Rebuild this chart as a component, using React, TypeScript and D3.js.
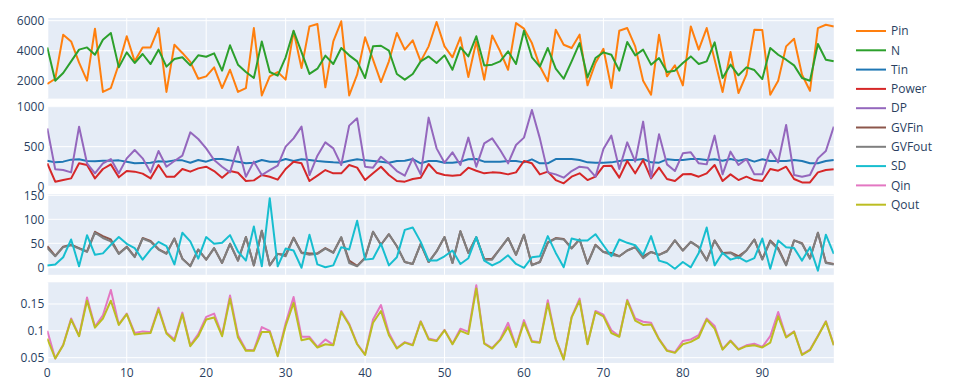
import * as d3 from "d3";

// x is just the sample index 0..99
const pin = [
  1780, 2130, 5070, 4620, 3200, 2000, 5470, 1250, 1510, 3100,
  4960, 3290, 4220, 4220, 5510, 1250, 4400, 3850, 3250, 2130,
  2290, 2890, 1510, 2730, 1250, 1510, 5510, 1020, 2290, 2580,
  2070, 5290, 2850, 5620, 5780, 1560, 4620, 5960, 1020, 2400,
  4890, 3400, 1910, 3290, 5180, 4070, 4690, 3290, 4290, 5910,
  4290, 3560, 4890, 2250, 4620, 2070, 5020, 3960, 2730, 5840,
  5470, 4510, 2960, 1960, 5400, 4400, 4180, 5070, 1690, 3180,
  4130, 1510, 5330, 5510, 4290, 2000, 1070, 5070, 2290, 3020,
  1690, 5620, 4070, 5510, 3400, 1250, 3910, 1180, 2400, 5400,
  5380, 1070, 2000, 4290, 4800, 2400, 1330, 5510, 5730, 5620,
];
const nSpeed = [
  4220, 2000, 2510, 3290, 4070, 4220, 3730, 4730, 5180, 2890,
  3890, 3180, 3780, 3110, 4070, 2940, 3450, 3560, 3020, 3690,
  3600, 3820, 2670, 4360, 3070, 2580, 2180, 4620, 2580, 2340,
  3560, 5330, 3910, 2450, 2800, 3670, 3110, 4180, 3690, 3290,
  2180, 4290, 4330, 4000, 2450, 2070, 2450, 3290, 3620, 3180,
  3690, 2730, 4220, 3620, 4960, 3020, 3070, 3290, 3960, 3110,
  5330, 3560, 2940, 4180, 2800, 2130, 3290, 4510, 2220, 3510,
  3890, 3730, 2670, 4580, 3690, 4070, 3070, 3510, 2580, 2670,
  3180, 3620, 3110, 3290, 4560, 2180, 3070, 2360, 2890, 2710,
  2110, 4180, 3730, 3400, 3020, 2180, 2000, 4450, 3400, 3290,
];
const tin = [
  325, 304, 313, 338, 342, 321, 317, 325, 325, 329,
  313, 292, 296, 300, 317, 313, 329, 329, 300, 333,
  313, 346, 346, 329, 313, 292, 300, 333, 313, 313,
  346, 321, 342, 333, 321, 313, 304, 300, 325, 342,
  329, 321, 313, 300, 321, 325, 346, 292, 321, 321,
  300, 300, 313, 342, 346, 313, 313, 313, 321, 321,
  304, 342, 292, 292, 346, 346, 346, 333, 304, 300,
  300, 304, 321, 333, 333, 346, 304, 300, 342, 333,
  333, 346, 346, 333, 342, 325, 346, 325, 346, 313,
  342, 321, 321, 321, 333, 321, 292, 292, 321, 333,
];
const power = [
  292, 63, 83, 104, 292, 271, 104, 221, 279, 117,
  196, 188, 163, 104, 271, 125, 125, 221, 188, 229,
  250, 196, 113, 196, 175, 71, 79, 146, 125, 88,
  221, 313, 292, 71, 138, 208, 167, 167, 271, 238,
  83, 167, 250, 146, 71, 63, 96, 113, 283, 175,
  146, 138, 146, 238, 200, 167, 179, 175, 154, 179,
  321, 292, 154, 188, 83, 42, 125, 167, 83, 125,
  258, 263, 113, 321, 167, 333, 104, 238, 96, 71,
  154, 158, 125, 167, 271, 71, 154, 83, 125, 83,
  71, 221, 200, 250, 96, 54, 54, 179, 208, 217,
];
const dp = [
  729, 217, 208, 179, 750, 292, 167, 292, 346, 167,
  354, 458, 354, 179, 446, 250, 321, 388, 679, 596,
  479, 333, 250, 179, 500, 125, 313, 146, 208, 263,
  500, 604, 750, 146, 388, 554, 479, 271, 763, 854,
  250, 238, 375, 292, 196, 138, 354, 154, 863, 479,
  300, 429, 271, 613, 250, 542, 604, 458, 292, 521,
  613, 958, 604, 179, 154, 113, 196, 250, 238, 125,
  471, 638, 221, 554, 313, 813, 113, 654, 279, 196,
  417, 429, 292, 279, 638, 154, 438, 271, 346, 154,
  154, 458, 304, 771, 146, 125, 146, 354, 446, 750,
];
const gvfIn = [
  44, 24, 43, 47, 40, 33, 74, 65, 58, 29,
  43, 22, 61, 55, 38, 29, 60, 18, 3, 37,
  16, 40, 9, 49, 14, 63, 4, 76, 4, 28,
  26, 62, 31, 29, 29, 40, 31, 62, 14, 3,
  20, 74, 47, 69, 44, 11, 7, 49, 11, 33,
  63, 9, 75, 30, 62, 17, 18, 39, 61, 26,
  68, 5, 11, 52, 61, 59, 40, 58, 8, 47,
  32, 30, 23, 35, 42, 23, 32, 26, 34, 56,
  35, 53, 42, 15, 56, 30, 31, 23, 35, 58,
  17, 56, 40, 5, 56, 50, 19, 72, 10, 7,
];
const gvfOut = [
  40, 23, 42, 46, 39, 32, 72, 61, 54, 28,
  42, 21, 60, 53, 37, 28, 60, 18, 2, 37,
  16, 40, 9, 49, 14, 63, 4, 76, 4, 28,
  23, 61, 30, 26, 28, 39, 30, 63, 9, 2,
  19, 74, 47, 69, 44, 11, 7, 49, 11, 33,
  63, 9, 75, 30, 63, 16, 16, 39, 61, 26,
  68, 4, 11, 51, 60, 58, 39, 58, 7, 46,
  32, 26, 23, 35, 42, 19, 32, 26, 33, 56,
  35, 53, 42, 14, 56, 28, 30, 19, 35, 58,
  16, 54, 37, 4, 56, 49, 18, 72, 9, 6,
];
const sd = [
  4, 6, 21, 58, 2, 67, 26, 29, 47, 63,
  49, 40, 16, 37, 53, 44, 6, 72, 54, 18,
  63, 49, 51, 67, 33, 14, 85, 2, 144, 2,
  39, 35, -1, 68, 6, 0, 4, 42, 37, 97,
  16, 18, 49, 4, 21, 78, 83, 53, 14, 14,
  23, 35, 7, 19, 63, 14, 4, 12, 25, 7,
  -1, 21, 23, 65, 30, 0, 60, 56, 56, 69,
  46, 23, 58, 51, 46, 26, 65, 14, 9, -3,
  11, 0, 30, 83, 4, 30, 16, 21, 12, 19,
  60, -3, 56, 42, 40, 14, 42, -7, 68, 28,
];
const qin = [
  0.100, 0.0485, 0.074, 0.123, 0.091, 0.162, 0.108, 0.129, 0.176, 0.112,
  0.132, 0.096, 0.099, 0.098, 0.143, 0.097, 0.084, 0.134, 0.073, 0.094,
  0.126, 0.132, 0.092, 0.166, 0.092, 0.065, 0.064, 0.107, 0.100, 0.054,
  0.114, 0.163, 0.089, 0.089, 0.070, 0.084, 0.074, 0.137, 0.113, 0.076,
  0.056, 0.121, 0.148, 0.096, 0.068, 0.079, 0.074, 0.118, 0.086, 0.082,
  0.102, 0.076, 0.104, 0.098, 0.185, 0.077, 0.068, 0.084, 0.115, 0.071,
  0.120, 0.081, 0.079, 0.157, 0.085, 0.048, 0.126, 0.160, 0.076, 0.137,
  0.130, 0.101, 0.090, 0.158, 0.123, 0.117, 0.115, 0.085, 0.064, 0.060,
  0.081, 0.084, 0.092, 0.123, 0.109, 0.066, 0.082, 0.066, 0.073, 0.076,
  0.070, 0.090, 0.135, 0.089, 0.099, 0.056, 0.065, 0.091, 0.118, 0.074,
];
const qout = [
  0.0857, 0.0485, 0.0733, 0.121, 0.090, 0.156, 0.106, 0.123, 0.156, 0.111,
  0.131, 0.093, 0.095, 0.096, 0.140, 0.095, 0.081, 0.131, 0.0714, 0.090,
  0.121, 0.125, 0.090, 0.160, 0.0876, 0.0627, 0.0627, 0.098, 0.098, 0.0528,
  0.109, 0.152, 0.0826, 0.0857, 0.069, 0.075, 0.073, 0.135, 0.111, 0.075,
  0.055, 0.115, 0.137, 0.092, 0.067, 0.078, 0.073, 0.117, 0.084, 0.081,
  0.101, 0.075, 0.100, 0.094, 0.179, 0.076, 0.067, 0.0826, 0.107, 0.070,
  0.115, 0.0795, 0.078, 0.151, 0.084, 0.0466, 0.125, 0.156, 0.075, 0.135,
  0.127, 0.096, 0.089, 0.156, 0.119, 0.111, 0.112, 0.084, 0.0627, 0.059,
  0.075, 0.0795, 0.0876, 0.121, 0.104, 0.065, 0.081, 0.065, 0.0714, 0.073,
  0.069, 0.078, 0.127, 0.0876, 0.098, 0.055, 0.064, 0.090, 0.117, 0.073,
];

const xTicks = [0, 10, 20, 30, 40, 50, 60, 70, 80, 90];

const panels = [
  {
    domain: [807, 6180], ticks: [2000, 4000, 6000],
    series: [
      { name: "Pin", color: "#ff7f0e", values: pin },
      { name: "N", color: "#2ca02c", values: nSpeed },
    ],
  },
  {
    domain: [0, 1007], ticks: [0, 500, 1000],
    series: [
      { name: "Tin", color: "#1f77b4", values: tin },
      { name: "Power", color: "#d62728", values: power },
      { name: "DP", color: "#9467bd", values: dp },
    ],
  },
  {
    domain: [-15.6, 152.3], ticks: [0, 50, 100, 150],
    series: [
      { name: "GVFin", color: "#8c564b", values: gvfIn },
      { name: "GVFout", color: "#7f7f7f", values: gvfOut },
      { name: "SD", color: "#17becf", values: sd },
    ],
  },
  {
    domain: [0.0403, 0.1904], ticks: [0.05, 0.1, 0.15],
    series: [
      { name: "Qin", color: "#e377c2", values: qin },
      { name: "Qout", color: "#bcbd22", values: qout },
    ],
  },
];

const W = 956;
const H = 392;
const left = 47.3;
const right = 833.8;
const top0 = 18;
const panelH = 80.6;
const gap = 7.5;
const font = '"Open Sans", verdana, arial, sans-serif';
const textColor = "#2a3f5f";

export default function App() {
  const x = d3.scaleLinear().domain([0, 99]).range([left, right]);
  const allSeries = panels.flatMap((p) => p.series);

  return (
    <svg width={W} height={H} style={{ position: "absolute", left: 0, top: 0, background: "#fff" }} fontFamily={font}>
      <defs>
        {panels.map((p, pi) => (
          <clipPath id={`clip${pi}`} key={pi}>
            <rect x={left} y={top0 + pi * (panelH + gap)} width={right - left} height={panelH} />
          </clipPath>
        ))}
      </defs>
      {panels.map((p, pi) => {
        const y0 = top0 + pi * (panelH + gap);
        const y = d3.scaleLinear().domain(p.domain).range([y0 + panelH, y0]);
        const line = d3.line<number>().x((_, i) => x(i)).y((d) => y(d));
        return (
          <g key={pi}>
            <rect x={left} y={y0} width={right - left} height={panelH} fill="#E5ECF6" />
            {xTicks.map((t) => (
              <line key={t} x1={x(t)} x2={x(t)} y1={y0} y2={y0 + panelH} stroke="#fff" strokeWidth={t === 0 ? 2 : 1} />
            ))}
            {p.ticks.map((t) => (
              <g key={t}>
                <line x1={left} x2={right} y1={y(t)} y2={y(t)} stroke="#fff" strokeWidth={t === 0 ? 2 : 1} />
                <text x={left - 3} y={y(t)} dy="0.35em" textAnchor="end" fontSize={12} fill={textColor}>
                  {String(t)}
                </text>
              </g>
            ))}
            <g clipPath={`url(#clip${pi})`}>
              {p.series.map((s) => (
                <path key={s.name} d={line(s.values) || ""} fill="none" stroke={s.color} strokeWidth={2} strokeLinejoin="round" />
              ))}
            </g>
          </g>
        );
      })}
      {xTicks.map((t) => (
        <text key={t} x={x(t)} y={377} textAnchor="middle" fontSize={12} fill={textColor}>
          {t}
        </text>
      ))}
      {allSeries.map((s, i) => {
        const ly = 31 + i * 19.3;
        return (
          <g key={s.name}>
            <line x1={856} x2={886} y1={ly} y2={ly} stroke={s.color} strokeWidth={2} />
            <text x={891} y={ly} dy="0.35em" fontSize={12} fill={textColor}>
              {s.name}
            </text>
          </g>
        );
      })}
    </svg>
  );
}
